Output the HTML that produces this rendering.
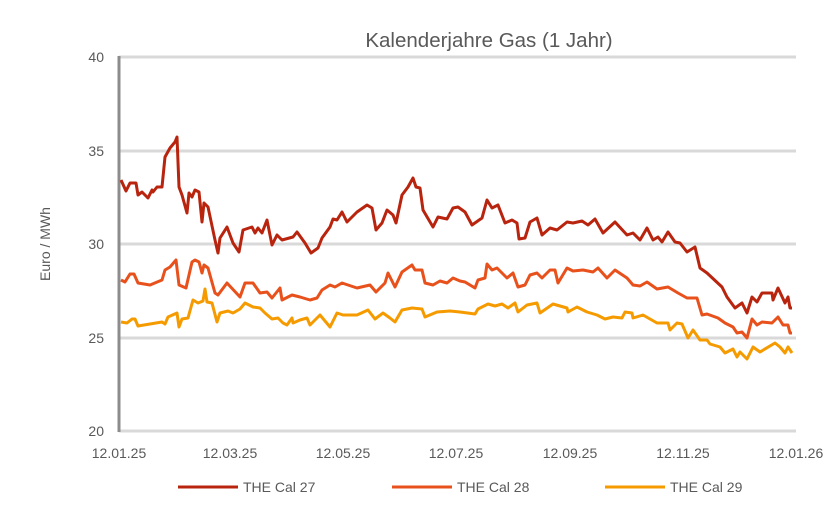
<!DOCTYPE html>
<html><head><meta charset="utf-8"><style>
body{margin:0;background:#fff;}
svg{display:block;font-family:"Liberation Sans",sans-serif;}
</style></head><body>
<svg width="837" height="512" viewBox="0 0 837 512">
<rect width="837" height="512" fill="#fff"/>
<text x="489" y="47" font-size="20.5" fill="#595959" text-anchor="middle">Kalenderjahre Gas (1 Jahr)</text>
<g stroke="#d9d9d9" stroke-width="3">
<line x1="119" y1="57" x2="796" y2="57"/><line x1="119" y1="151" x2="796" y2="151"/>
<line x1="119" y1="244" x2="796" y2="244"/><line x1="119" y1="338" x2="796" y2="338"/>
<line x1="119" y1="431" x2="796" y2="431"/>
</g>
<line x1="119" y1="56" x2="119" y2="432" stroke="#8c8c8c" stroke-width="3"/>
<g font-size="14" fill="#595959" text-anchor="end">
<text x="104" y="62">40</text><text x="104" y="156">35</text><text x="104" y="249">30</text><text x="104" y="343">25</text><text x="104" y="436">20</text>
</g>
<text transform="translate(50,244) rotate(-90)" font-size="14" fill="#595959" text-anchor="middle">Euro / MWh</text>
<g font-size="14" fill="#595959" text-anchor="middle">
<text x="119" y="458">12.01.25</text><text x="230" y="458">12.03.25</text><text x="343" y="458">12.05.25</text><text x="456" y="458">12.07.25</text><text x="570" y="458">12.09.25</text><text x="683" y="458">12.11.25</text><text x="796" y="458">12.01.26</text>
</g>
<g fill="none" stroke-width="3" stroke-linejoin="round">
<polyline stroke="#B8240E" points="121,180 126,191 130,183 136,183 138,195 142,192 148,198 152,190 153,192 157,187 162,187 165,157 170,148 175,142 177,137 179,187 182,195 187,213 189,193 192,197 195,190 199,192 202,222 204,203 208,207 215,240 218,253 220,238 227,227 233,243 239,252 243,230 252,227 255,233 258,228 262,233 267,220 272,245 277,235 282,240 293,237 297,232 305,243 311,253 318,248 322,238 330,227 333,219 337,220 342,212 347,222 357,212 367,205 372,208 376,230 382,223 387,210 393,215 396,223 402,195 408,187 413,178 416,187 420,188 423,210 433,227 438,217 447,219 453,208 458,207 465,212 472,225 482,218 487,200 492,208 498,205 505,223 512,220 517,223 519,239 525,238 530,222 537,218 542,235 550,228 557,230 567,222 573,223 582,221 588,225 595,219 603,233 615,222 627,235 633,233 640,240 647,228 653,240 658,237 662,242 668,232 675,242 680,243 687,252 695,247 700,268 707,273 722,287 727,297 735,308 742,303 747,313 752,297 757,302 762,293 772,293 773,300 778,288 785,303 788,297 790,308 792,308"/>
<polyline stroke="#E8511B" points="121,280 125,282 130,274 134,274 138,283 150,285 162,280 165,270 170,267 176,260 179,285 186,288 192,262 195,260 199,262 202,273 204,265 208,268 215,293 218,295 227,283 240,297 245,283 253,283 260,293 267,292 272,298 280,288 282,300 292,295 300,297 310,300 317,298 322,290 330,285 335,287 342,283 357,288 370,285 376,292 385,283 388,273 395,287 402,272 412,265 415,270 422,270 425,283 433,285 440,281 447,283 453,278 460,281 465,282 475,288 478,280 485,278 487,264 492,270 497,268 507,278 513,273 518,287 525,285 530,275 537,273 542,278 550,270 555,270 558,283 567,268 573,271 583,270 593,272 598,268 607,278 615,270 627,278 633,285 640,286 647,282 657,289 668,287 678,293 687,298 697,298 702,315 707,314 718,318 725,323 733,327 737,333 742,332 747,338 752,319 757,325 762,322 772,323 778,317 783,325 788,325 790,333 792,333"/>
<polyline stroke="#F59B00" points="121,322 127,323 132,319 135,319 138,326 150,324 162,322 165,324 168,317 177,313 179,327 182,319 188,318 193,300 198,303 203,301 205,289 207,302 212,303 217,322 220,313 228,311 233,313 240,309 245,303 253,307 260,308 265,313 272,319 278,318 283,323 287,325 292,318 293,323 300,320 307,318 310,325 320,315 330,327 337,313 343,315 357,315 368,310 375,319 383,313 390,318 395,322 402,310 412,308 422,309 425,317 437,312 450,311 460,312 475,314 478,309 488,304 495,306 502,304 508,308 515,303 518,312 527,305 537,303 540,313 553,304 567,308 568,312 577,307 587,312 597,315 605,319 613,317 622,318 625,312 632,313 633,318 643,315 657,323 668,323 670,330 677,323 682,324 688,338 693,330 700,340 707,340 710,344 720,347 725,353 733,349 737,357 740,352 747,359 753,347 760,352 775,343 780,347 785,353 788,347 792,353"/>
</g>
<g stroke-width="3">
<line x1="178" y1="487" x2="238" y2="487" stroke="#B8240E"/>
<line x1="392" y1="487" x2="452" y2="487" stroke="#E8511B"/>
<line x1="605" y1="487" x2="665" y2="487" stroke="#F59B00"/>
</g>
<g font-size="14" fill="#595959">
<text x="243" y="492">THE Cal 27</text><text x="457" y="492">THE Cal 28</text><text x="670" y="492">THE Cal 29</text>
</g>
</svg>
</body></html>
